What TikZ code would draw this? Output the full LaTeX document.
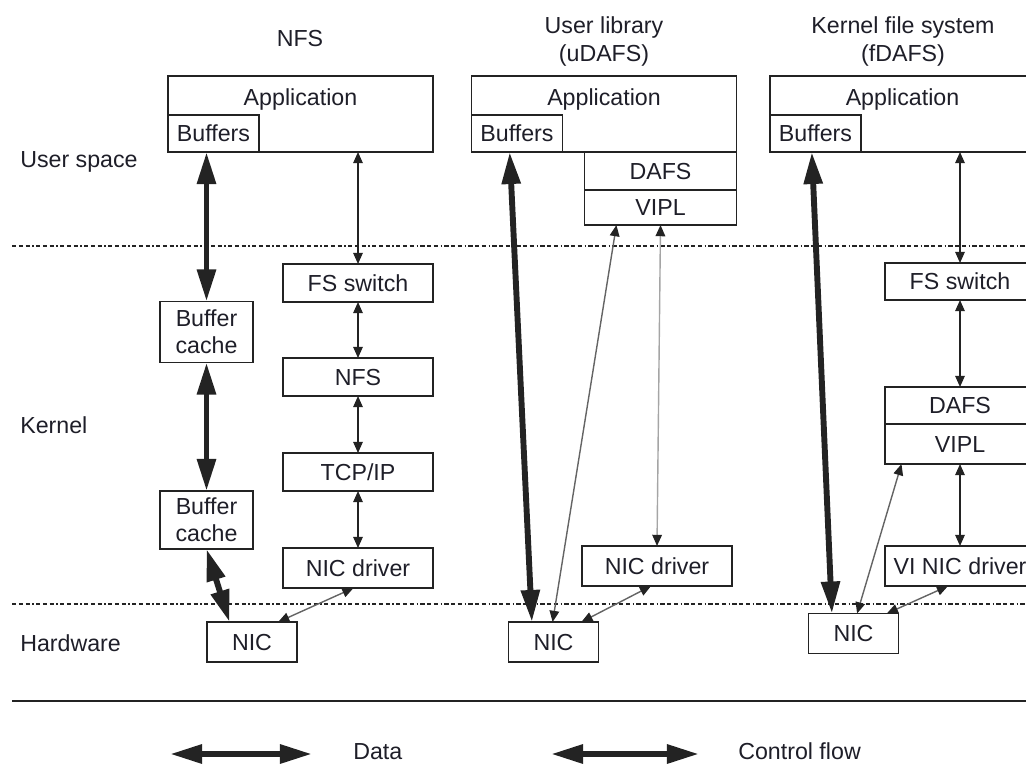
\documentclass[tikz,border=0pt]{standalone}
\usepackage{fontspec}
\setmainfont{Liberation Sans}
\usetikzlibrary{arrows.meta, positioning, calc}
\definecolor{figtext}{RGB}{30,30,40}
\definecolor{figline}{RGB}{35,35,35}
\definecolor{figgray}{RGB}{100,100,100}
\definecolor{figlight}{RGB}{165,165,165}

\begin{document}
\begin{tikzpicture}[x=0.025cm, y=-0.025cm,
    every node/.style={font=\fontsize{16.5}{19.5}\selectfont, text=figtext, inner sep=0pt},
    frame/.style={draw=figline, line width=1.1pt, outer sep=0pt, align=center},
    layer/.style={frame, minimum width=3.75cm, minimum height=0.95cm,
                  text height=0.42cm, text depth=0pt},
    appbox/.style={frame, minimum width=6.625cm, text height=0.75cm, text depth=1.15cm},
    bufbox/.style={layer, minimum width=2.275cm, minimum height=0.925cm, anchor=south west},
    cachebox/.style={frame, minimum width=2.325cm, minimum height=1.45cm},
    nicbox/.style={layer, minimum width=2.25cm, minimum height=1cm},
    datapath/.style={line width=4.2pt, draw=figline,
                     >={Triangle[width=0.45cm, length=0.8cm]}, <->},
    ctrlpath/.style={line width=1pt, draw=figline,
                     >={Triangle[width=0.24cm, length=0.28cm, color=figline]}, <->},
    ctrlgray/.style={ctrlpath, draw=figgray},
    ctrllight/.style={ctrlpath, draw=figlight},
    tierline/.style={line width=1pt, draw=figline,
                     dash pattern=on 0.11cm off 0.06cm on 0.11cm off 0.06cm on 0.11cm off 0.06cm on 0.03cm off 0.06cm}]
  \useasboundingbox (0,0) rectangle (1026,763);
  \clip (0,0) rectangle (1026,763);

  % Column headings
  \node (headNFS) at (300,38.5) {NFS};
  \node[align=center] (headUser) at (604,41.5) {User library\\(uDAFS)};
  \node[align=center] (headKern) at (903,41.5) {Kernel file system\\(fDAFS)};

  % Layer names
  \node[anchor=base west] (nameUser) at (20,167) {User space};
  \node[anchor=base west] (nameKern) at (20,433) {Kernel};
  \node[anchor=base west] (nameHw) at (20,651) {Hardware};

  % Layer boundaries
  \draw[tierline] (12,246) -- (1040,246);
  \draw[tierline] (12,604) -- (1040,604);
  \draw[line width=1.4pt, draw=figline] (12,701) -- (1040,701);

  % NFS column
  \node[appbox] (appA) at (300.5,114) {Application};
  \node[bufbox] (bufA) at (appA.south west) {Buffers};
  \node[layer] (fsA) at (358,283) {FS switch};
  \node[cachebox, minimum height=1.525cm] (cacheA) at (206.5,332) {Buffer\\cache};
  \node[layer] (nfsA) at (358,377) {NFS};
  \node[layer] (tcpA) at (358,472) {TCP/IP};
  \node[cachebox] (cacheB) at (206.5,520) {Buffer\\cache};
  \node[layer, minimum height=1cm] (drvA) at (358,568) {NIC driver};
  \node[nicbox] (nicA) at (252,642) {NIC};

  % uDAFS column
  \node[appbox] (appB) at (604,114) {Application};
  \node[bufbox] (bufB) at (appB.south west) {Buffers};
  \node[layer, minimum width=3.8cm, anchor=north east] (dafsB) at (appB.south east) {DAFS};
  \node[layer, minimum width=3.8cm, minimum height=0.875cm, anchor=north] (viplB) at (dafsB.south) {VIPL};
  \node[layer, minimum height=1cm] (drvB) at (657,566) {NIC driver};
  \node[nicbox] (nicB) at (553.5,642) {NIC};

  % fDAFS column
  \node[appbox] (appC) at (902.5,114) {Application};
  \node[bufbox] (bufC) at (appC.south west) {Buffers};
  \node[layer, minimum height=0.925cm] (fsC) at (960,281.5) {FS switch};
  \node[layer, minimum height=0.925cm] (dafsC) at (960,405.5) {DAFS};
  \node[layer, minimum height=1cm, anchor=north] (viplC) at (dafsC.south) {VIPL};
  \node[layer, minimum height=1cm] (drvC) at (960,566) {VI NIC driver};
  \node[nicbox] (nicC) at (853.5,633.5) {NIC};

  % Data transfers
  \draw[datapath] (bufA.south -| cacheA.north) -- (cacheA.north);
  \draw[datapath] (cacheA) -- (cacheB);
  \draw[datapath] (cacheB.south) -- ($(nicA.north west)!0.25!(nicA.north east)$);
  \draw[datapath] ($(bufB.south west)!0.42!(bufB.south east)$) -- ($(nicB.north west)!0.26!(nicB.north east)$);
  \draw[datapath] ($(bufC.south west)!0.46!(bufC.south east)$) -- ($(nicC.north west)!0.26!(nicC.north east)$);

  % Control flow, NFS
  \draw[ctrlpath] (appA.south -| fsA.north) -- (fsA.north);
  \draw[ctrlpath] (fsA) -- (nfsA);
  \draw[ctrlpath] (nfsA) -- (tcpA);
  \draw[ctrlpath] (tcpA) -- (drvA);
  \draw[ctrlgray] ($(drvA.south west)!0.47!(drvA.south east)$) -- ($(nicA.north west)!0.79!(nicA.north east)$);

  % Control flow, uDAFS
  \draw[ctrlgray] ($(nicB.north west)!0.49!(nicB.north east)$) -- ($(viplB.south west)!0.21!(viplB.south east)$);
  \draw[ctrllight] (viplB.south) -- (drvB.north);
  \draw[ctrlgray] ($(drvB.south west)!0.46!(drvB.south east)$) -- ($(nicB.north west)!0.81!(nicB.north east)$);

  % Control flow, fDAFS
  \draw[ctrlpath] (appC.south -| fsC.north) -- (fsC.north);
  \draw[ctrlpath] (fsC) -- (dafsC);
  \draw[ctrlpath] (viplC) -- (drvC);
  \draw[ctrlgray] ($(nicC.north west)!0.54!(nicC.north east)$) -- ($(viplC.south west)!0.11!(viplC.south east)$);
  \draw[ctrlgray] ($(drvC.south west)!0.42!(drvC.south east)$) -- ($(nicC.north west)!0.87!(nicC.north east)$);

  % Legend
  \coordinate (keyDataL) at (170,754);
  \coordinate (keyDataR) at (312,754);
  \draw[datapath] (keyDataL) -- (keyDataR);
  \node[anchor=base west] (keyData) at (353,759) {Data};
  \coordinate (keyCtrlL) at (551,754);
  \coordinate (keyCtrlR) at (699,754);
  \draw[datapath] (keyCtrlL) -- (keyCtrlR);
  \node[anchor=base west] (keyCtrl) at (738,759) {Control flow};
\end{tikzpicture}
\end{document}
